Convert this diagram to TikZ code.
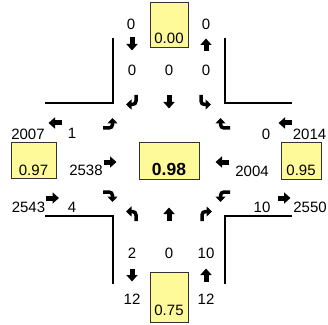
\documentclass[tikz,border=0pt]{standalone}
\usepackage{fontspec}
\setmainfont{Liberation Sans}
\usetikzlibrary{arrows.meta}
\begin{document}
\begin{tikzpicture}[x=1pt,y=1pt, every node/.style={font=\fontsize{15}{16}\selectfont,inner sep=0pt},
  curb/.style={line width=2.5pt},
  vc/.style={draw=black!80,line width=0.8pt,fill=yellow!40,inner sep=0pt,text depth=3pt},
  blk/.style={line width=5pt,-{Triangle[width=11pt,length=6.5pt]}},
  hook/.style={line width=3.5pt,-{Triangle[width=10pt,length=5.5pt]}},
  thru/.pic={\draw[blk] (-6.5,0) -- (6.5,0);},
  turn/.pic={\draw[hook] (-4,-7) -- (-4,-1) arc[start angle=180,end angle=90,radius=3.5] -- (6,2.5);}]
\useasboundingbox (0,0) rectangle (328,324);
% kerbs
\draw[curb] (45,221) -- (113,221) -- (113,286);
\draw[curb] (225,286) -- (225,221) -- (292,221);
\draw[curb] (45,108) -- (113,108) -- (113,40);
\draw[curb] (292,108) -- (225,108) -- (225,40);
% v/c boxes
\node[vc,minimum width=38pt,text height=42pt,text depth=3pt] (vcN) at (169,299.5) {0.00};
\node[vc,minimum width=45pt,text height=33pt,text depth=3pt] (vcW) at (33.5,164) {0.97};
\node[vc,minimum width=60pt,text height=33pt,text depth=4pt,font=\fontsize{17.5}{18}\selectfont\bfseries] (vcX) at (169,163.5) {0.98};
\node[vc,minimum width=40pt,text height=33.5pt,text depth=3.5pt] (vcE) at (301,163.5) {0.95};
\node[vc,minimum width=38pt,text height=43pt,text depth=7pt] (vcS) at (169,27) {0.75};
% north approach
\node (sIn) at (131,300) {0};
\node (nOut) at (206,300) {0};
\node (sR) at (132,254) {0};
\node (sT) at (169,254) {0};
\node (sL) at (206,254) {0};
\pic[rotate=-90] at (132,280) {thru};
\pic[rotate=90] at (206,279) {thru};
\pic[rotate=180] at (132,222) {turn};
\pic[rotate=-90] at (169,222) {thru};
\pic[rotate=180,xscale=-1] at (205,222) {turn};
% west approach
\node (wOut) at (28,190) {2007};
\node (eL) at (72,191) {1};
\node (eT) at (86,154) {2538};
\node (eIn) at (28.5,117) {2543};
\node (eR) at (72,117) {4};
\pic[rotate=180] at (55,201) {thru};
\pic[rotate=-90,xscale=-1] at (110,200) {turn};
\pic at (110,162) {thru};
\pic[rotate=-90] at (110,128) {turn};
\pic at (52.5,126) {thru};
% east approach
\node (wIn) at (309.5,190) {2014};
\node (wR) at (266,190) {0};
\node (wT) at (252,153) {2004};
\node (wL) at (262,117) {10};
\node (eOut) at (310,117) {2550};
\pic[rotate=180] at (285,201) {thru};
\pic[rotate=90] at (223,200) {turn};
\pic[rotate=180] at (222,162) {thru};
\pic[rotate=90,xscale=-1] at (223,128) {turn};
\pic at (284,126) {thru};
% south approach
\node (nL) at (132,71) {2};
\node (nT) at (169,71) {0};
\node (nR) at (206,71) {10};
\node (sOut) at (132,25) {12};
\node (nIn) at (206,25) {12};
\pic[xscale=-1] at (132,110) {turn};
\pic[rotate=90] at (169,110) {thru};
\pic at (206,110) {turn};
\pic[rotate=-90] at (132,49) {thru};
\pic[rotate=90] at (206,49) {thru};
\end{tikzpicture}
\end{document}
